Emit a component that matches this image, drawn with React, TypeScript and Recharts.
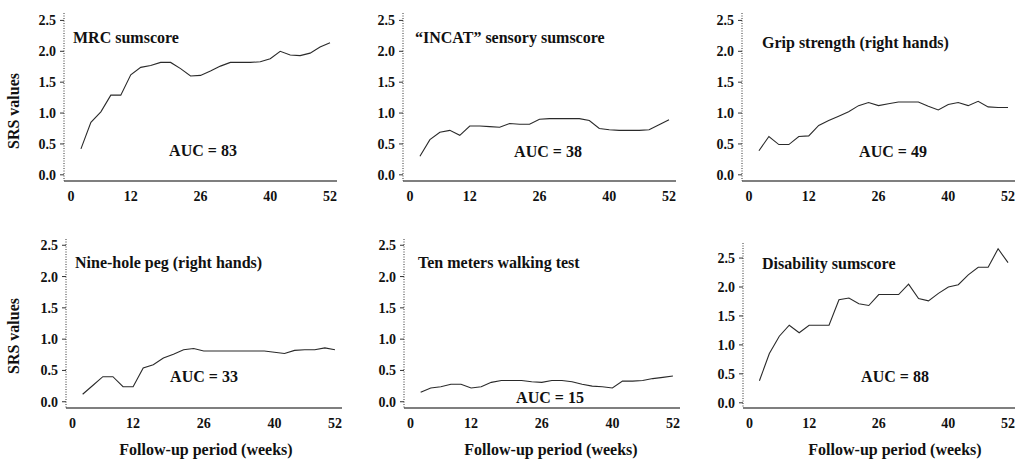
import React from 'react';
import { LineChart, Line, XAxis, YAxis } from 'recharts';

const weeks = [2, 4, 6, 8, 10, 12, 14, 16, 18, 20, 22, 24, 26, 28, 30, 32, 34, 36, 38, 40, 42, 44, 46, 48, 50, 52];

const mrcValues = [0.42, 0.85, 1.02, 1.29, 1.29, 1.62, 1.74, 1.77, 1.82, 1.82, 1.72, 1.60, 1.61, 1.68, 1.76, 1.82, 1.82, 1.82, 1.83, 1.88, 2.00, 1.94, 1.93, 1.97, 2.07, 2.14];
const incatValues = [0.30, 0.57, 0.69, 0.72, 0.64, 0.79, 0.79, 0.78, 0.77, 0.83, 0.82, 0.82, 0.90, 0.91, 0.91, 0.91, 0.91, 0.88, 0.75, 0.73, 0.72, 0.72, 0.72, 0.73, 0.81, 0.89];
const gripValues = [0.39, 0.62, 0.49, 0.49, 0.62, 0.63, 0.80, 0.88, 0.95, 1.02, 1.12, 1.17, 1.12, 1.15, 1.18, 1.18, 1.18, 1.11, 1.05, 1.14, 1.17, 1.12, 1.19, 1.10, 1.09, 1.09];
const pegValues = [0.12, 0.26, 0.40, 0.40, 0.24, 0.24, 0.54, 0.59, 0.70, 0.76, 0.83, 0.85, 0.81, 0.81, 0.81, 0.81, 0.81, 0.81, 0.81, 0.79, 0.77, 0.82, 0.83, 0.83, 0.86, 0.83];
const walkValues = [0.15, 0.22, 0.24, 0.28, 0.28, 0.22, 0.24, 0.31, 0.34, 0.34, 0.34, 0.32, 0.31, 0.34, 0.34, 0.32, 0.28, 0.25, 0.24, 0.22, 0.33, 0.33, 0.34, 0.37, 0.39, 0.41];
const disabilityValues = [0.38, 0.85, 1.15, 1.34, 1.21, 1.34, 1.34, 1.34, 1.78, 1.81, 1.71, 1.68, 1.87, 1.87, 1.87, 2.05, 1.80, 1.76, 1.89, 2.00, 2.04, 2.21, 2.34, 2.34, 2.66, 2.42];

const xTicks = [0, 12, 26, 40, 52];
const yTicks = [0, 0.5, 1.0, 1.5, 2.0, 2.5];

const titles = ['MRC sumscore', '\u201CINCAT\u201D sensory sumscore', 'Grip strength (right hands)', 'Nine-hole peg (right hands)', 'Ten meters walking test', 'Disability sumscore'];
const aucLabels = ['AUC = 83', 'AUC = 38', 'AUC = 49', 'AUC = 33', 'AUC = 15', 'AUC = 88'];
const yLabel = 'SRS values';
const xLabel = 'Follow-up period (weeks)';

const FONT = '"Liberation Serif", "Times New Roman", serif';
const YW = 50;
const XH = 30;

type PanelProps = {
  left: number; top: number; w: number; h: number;
  yDomain: [number, number]; xDomain: [number, number];
  values: number[];
};

function Panel({ left, top, w, h, yDomain, xDomain, values }: PanelProps) {
  const data = weeks.map((wk, i) => ({ week: wk, v: values[i] }));
  const tickStyle = { fontFamily: FONT, fontWeight: 'bold' as const, fontSize: 14, fill: '#111' };
  return (
    <div style={{ position: 'absolute', left: left - YW, top: top - 5 }}>
      <LineChart width={w + YW + 5} height={h + 5 + XH} data={data}
        margin={{ top: 5, right: 5, left: 0, bottom: 0 }}>
        <XAxis dataKey="week" type="number" domain={xDomain} ticks={xTicks} allowDataOverflow
          height={XH} tickSize={0} tickMargin={10} tick={tickStyle}
          axisLine={{ stroke: '#555', strokeWidth: 1.6 }} tickLine={false} interval={0} />
        <YAxis type="number" domain={yDomain} ticks={yTicks} allowDataOverflow width={YW}
          tickSize={4} tickMargin={4} tick={tickStyle}
          tickFormatter={(v: number) => v.toFixed(1)}
          axisLine={{ stroke: '#333', strokeWidth: 1, strokeDasharray: '1 1.5' }}
          tickLine={{ stroke: '#333', strokeWidth: 1 }} interval={0} />
        <Line type="linear" dataKey="v" stroke="#2a2a2a" strokeWidth={1.1} dot={false}
          isAnimationActive={false} />
      </LineChart>
    </div>
  );
}

export default function App() {
  const xd: [number, number] = [-1.4, 53.4];
  const xd2: [number, number] = [-1.3, 53.4];
  const titleStyle = { fontFamily: FONT, fontWeight: 'bold' as const, fontSize: 16, fill: '#111' };
  return (
    <div style={{ position: 'absolute', left: 0, top: 0, width: 1017, height: 460, background: '#fff', overflow: 'hidden' }}>
      <Panel left={64} top={13} w={273} h={168} yDomain={[-0.1, 2.62]} xDomain={xd} values={mrcValues} />
      <Panel left={403} top={13} w={273} h={168} yDomain={[-0.1, 2.62]} xDomain={xd} values={incatValues} />
      <Panel left={742} top={13} w={273} h={168} yDomain={[-0.1, 2.62]} xDomain={xd} values={gripValues} />
      <Panel left={66} top={239} w={276} h={169} yDomain={[-0.1, 2.6]} xDomain={xd2} values={pegValues} />
      <Panel left={404} top={239} w={276} h={169} yDomain={[-0.1, 2.6]} xDomain={xd2} values={walkValues} />
      <Panel left={743} top={243} w={272} h={165} yDomain={[-0.09, 2.76]} xDomain={xd2} values={disabilityValues} />
      <svg width={1017} height={460} style={{ position: 'absolute', left: 0, top: 0, pointerEvents: 'none' }}>
        <text x={73} y={37} dominantBaseline="central" style={titleStyle}>{titles[0]}</text>
        <text x={415} y={37} dominantBaseline="central" style={titleStyle}>{titles[1]}</text>
        <text x={762} y={42} dominantBaseline="central" style={titleStyle}>{titles[2]}</text>
        <text x={75} y={262} dominantBaseline="central" style={titleStyle}>{titles[3]}</text>
        <text x={418} y={262} dominantBaseline="central" style={titleStyle}>{titles[4]}</text>
        <text x={762} y={263} dominantBaseline="central" style={titleStyle}>{titles[5]}</text>

        <text x={203} y={150} textAnchor="middle" dominantBaseline="central" style={titleStyle}>{aucLabels[0]}</text>
        <text x={548} y={151} textAnchor="middle" dominantBaseline="central" style={titleStyle}>{aucLabels[1]}</text>
        <text x={893} y={151} textAnchor="middle" dominantBaseline="central" style={titleStyle}>{aucLabels[2]}</text>
        <text x={204} y={376} textAnchor="middle" dominantBaseline="central" style={titleStyle}>{aucLabels[3]}</text>
        <text x={550} y={397} textAnchor="middle" dominantBaseline="central" style={titleStyle}>{aucLabels[4]}</text>
        <text x={895} y={376} textAnchor="middle" dominantBaseline="central" style={titleStyle}>{aucLabels[5]}</text>

        <text x={13} y={111} textAnchor="middle" dominantBaseline="central" transform="rotate(-90 13 111)" style={titleStyle}>{yLabel}</text>
        <text x={13} y={336} textAnchor="middle" dominantBaseline="central" transform="rotate(-90 13 336)" style={titleStyle}>{yLabel}</text>

        <text x={206} y={449} textAnchor="middle" dominantBaseline="central" style={titleStyle}>{xLabel}</text>
        <text x={551} y={449} textAnchor="middle" dominantBaseline="central" style={titleStyle}>{xLabel}</text>
        <text x={895} y={449} textAnchor="middle" dominantBaseline="central" style={titleStyle}>{xLabel}</text>
      </svg>
    </div>
  );
}
